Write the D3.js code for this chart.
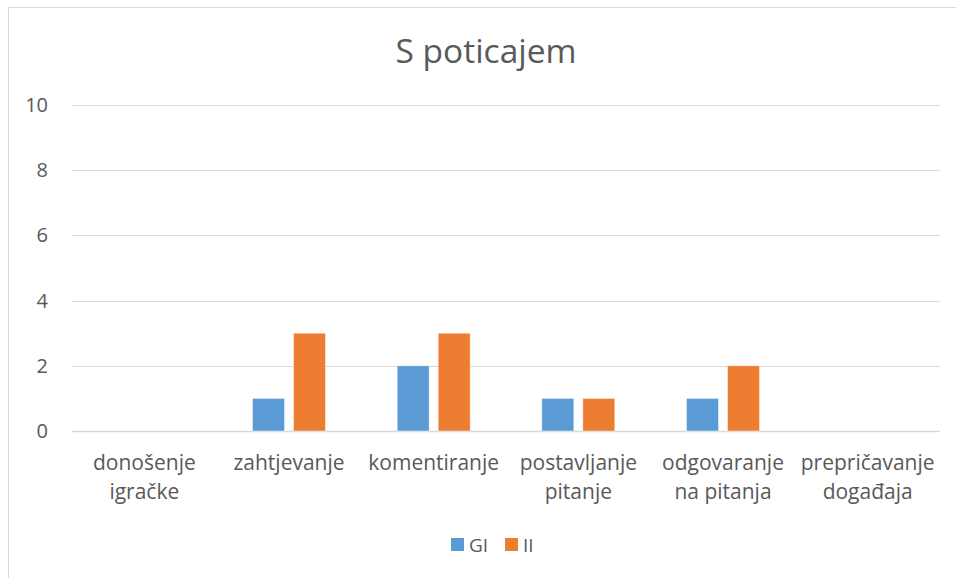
<!DOCTYPE html>
<html>
<head>
<meta charset="utf-8">
<script src="https://cdn.jsdelivr.net/npm/d3@7"></script>
<style>
  body { margin: 0; background: #fff; }
  svg { display: block; }
  text { font-family: "Open Sans", Lato, sans-serif; fill: #595959; }
</style>
</head>
<body>
<div id="chart"></div>
<script>
// data
var categories = [
  ["donošenje", "igračke"],
  ["zahtjevanje"],
  ["komentiranje"],
  ["postavljanje", "pitanje"],
  ["odgovaranje", "na pitanja"],
  ["prepričavanje", "događaja"]
];
var seriesNames = ["GI", "II"];
var giValues = [0, 1, 2, 1, 1, 0];
var iiValues = [0, 3, 3, 1, 2, 0];
var yTicks = [0, 2, 4, 6, 8, 10];
var colors = ["#5B9BD5", "#ED7D31"];

var width = 956, height = 578;
var margin = { top: 105, left: 72, right: 16, bottom: 147 };

var svg = d3.select("#chart").append("svg")
  .attr("width", width)
  .attr("height", height);

// chart border
svg.append("rect")
  .attr("x", 8.5).attr("y", 7.5)
  .attr("width", 960).attr("height", 600)
  .attr("fill", "none")
  .attr("stroke", "#d9d9d9");

var x = d3.scaleBand()
  .domain(d3.range(categories.length))
  .range([margin.left, width - margin.right]);

var y = d3.scaleLinear()
  .domain([0, 10])
  .range([height - margin.bottom, margin.top]);

// gridlines
svg.append("g").selectAll("line")
  .data(yTicks)
  .enter().append("line")
  .attr("x1", margin.left)
  .attr("x2", width - margin.right)
  .attr("y1", function(d) { return Math.round(y(d)) + 0.5; })
  .attr("y2", function(d) { return Math.round(y(d)) + 0.5; })
  .attr("stroke", "#d9d9d9")
  .attr("stroke-width", function(d) { return d === 0 ? 1.5 : 1; });

// y labels
svg.append("g").selectAll("text")
  .data(yTicks)
  .enter().append("text")
  .attr("x", 48)
  .attr("y", function(d) { return y(d); })
  .attr("dy", "0.35em")
  .attr("text-anchor", "end")
  .style("font-size", "20px")
  .text(function(d) { return d; });

// bars
var barW = 32, gap = 9;
var series = [giValues, iiValues];
series.forEach(function(vals, s) {
  svg.append("g").selectAll("rect")
    .data(vals)
    .enter().append("rect")
    .attr("x", function(d, i) {
      var c = x(i) + x.bandwidth() / 2;
      return s === 0 ? c - gap / 2 - barW : c + gap / 2;
    })
    .attr("y", function(d) { return y(d); })
    .attr("width", barW)
    .attr("height", function(d) { return y(0) - y(d); })
    .attr("fill", colors[s])
    .attr("stroke", "#fff")
    .attr("stroke-opacity", 0.6)
    .attr("stroke-width", 0.75)
    .style("display", function(d) { return d === 0 ? "none" : null; });
});

// category labels
var cat = svg.append("g").selectAll("text")
  .data(categories)
  .enter().append("text")
  .attr("text-anchor", "middle")
  .style("font-size", "21px")
  .attr("transform", function(d, i) {
    return "translate(" + (x(i) + x.bandwidth() / 2) + ",470)";
  });
cat.selectAll("tspan")
  .data(function(d) { return d; })
  .enter().append("tspan")
  .attr("x", 0)
  .attr("y", function(d, i) { return i * 29; })
  .text(function(d) { return d; });

// title
svg.append("text")
  .attr("x", 486)
  .attr("y", 63)
  .attr("text-anchor", "middle")
  .style("font-size", "33.5px")
  .text("S poticajem");

// legend
var legX = [451, 505];
var leg = svg.append("g").selectAll("g")
  .data(seriesNames)
  .enter().append("g")
  .attr("transform", function(d, i) { return "translate(" + legX[i] + ",538)"; });
leg.append("rect")
  .attr("width", 13)
  .attr("height", 13)
  .attr("fill", function(d, i) { return colors[i]; });
leg.append("text")
  .attr("x", 18)
  .attr("y", 7)
  .attr("dy", "0.35em")
  .style("font-size", "19px")
  .text(function(d) { return d; });
</script>
</body>
</html>
